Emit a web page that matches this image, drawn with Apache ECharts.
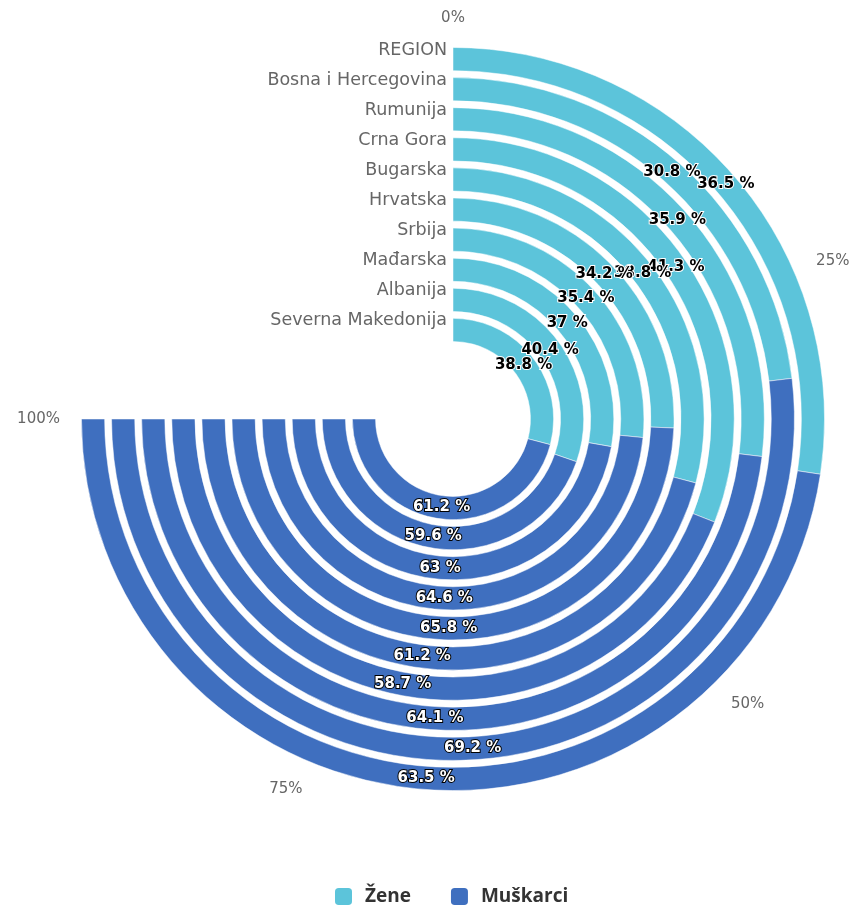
<!DOCTYPE html>
<html>
<head>
<meta charset="utf-8">
<script src="https://cdn.jsdelivr.net/npm/echarts@6/dist/echarts.min.js"></script>
<style>
html,body{margin:0;padding:0;background:#fff;}
#chart{width:858px;height:909px;}
</style>
</head>
<body>
<div id="chart"></div>
<script>
const categories = ['REGION', 'Bosna i Hercegovina', 'Rumunija', 'Crna Gora', 'Bugarska', 'Hrvatska', 'Srbija', 'Mađarska', 'Albanija', 'Severna Makedonija'];
const zene = [36.5, 30.8, 35.9, 41.3, 38.8, 34.2, 35.4, 37, 40.4, 38.8];
const muskarci = [63.5, 69.2, 64.1, 58.7, 61.2, 65.8, 64.6, 63, 59.6, 61.2];
const angleTicks = [0, 25, 50, 75, 100];
const seriesNames = ['Žene', 'Muškarci'];

const chart = echarts.init(document.getElementById('chart'));
const FONT = '"DejaVu Sans", sans-serif';
const LFONT = '"Open Sans", "DejaVu Sans", sans-serif';
chart.setOption({
  animation: false,
  textStyle: { fontFamily: FONT },
  color: ['#5cc4da', '#3f6fbf'],
  polar: { center: [453, 419], radius: [74, 375] },
  angleAxis: {
    type: 'value', min: angleTicks[0], max: angleTicks[angleTicks.length - 1], interval: 25,
    startAngle: 90, endAngle: -180, clockwise: true,
    axisLine: { show: false }, axisTick: { show: false }, splitLine: { show: false },
    axisLabel: { formatter: '{value}%', color: '#666', fontSize: 15, margin: 18, fontFamily: FONT }
  },
  radiusAxis: {
    type: 'category', data: categories, inverse: true,
    axisLine: { show: false }, axisTick: { show: false }, splitLine: { show: false },
    axisLabel: { interval: 0, color: '#666', fontSize: 17.5, margin: 6, verticalAlign: 'bottom', fontFamily: FONT }
  },
  legend: {
    bottom: -3, left: 328, itemWidth: 19, itemHeight: 19, itemGap: 38,
    icon: 'roundRect',
    textStyle: { fontSize: 19, fontWeight: 'bold', color: '#333', fontFamily: LFONT, padding: [0, 0, 0, 7] },
    data: seriesNames
  },
  series: [
    {
      name: seriesNames[0], type: 'bar', coordinateSystem: 'polar', stack: 'a',
      data: zene, barCategoryGap: '23%',
      itemStyle: { borderColor: '#fff', borderWidth: 0.5 },
      label: { show: true, position: 'middle', rotate: 0, formatter: '{c} %', color: '#000', fontWeight: 'bold', fontSize: 15, textBorderColor: '#fff', textBorderWidth: 2, fontFamily: FONT }
    },
    {
      name: seriesNames[1], type: 'bar', coordinateSystem: 'polar', stack: 'a',
      data: muskarci, barCategoryGap: '23%',
      itemStyle: { borderColor: '#fff', borderWidth: 0.5 },
      label: { show: true, position: 'middle', rotate: 0, formatter: '{c} %', color: '#fff', fontWeight: 'bold', fontSize: 15, textBorderColor: '#000', textBorderWidth: 2, fontFamily: FONT }
    }
  ]
});
</script>
</body>
</html>
